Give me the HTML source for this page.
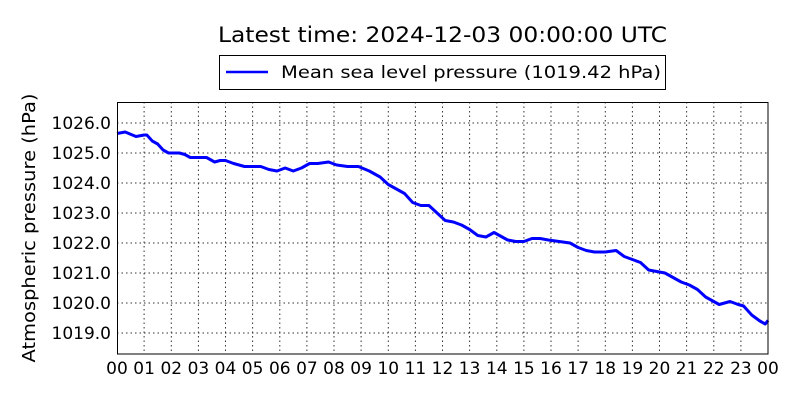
<!DOCTYPE html>
<html><head><meta charset="utf-8"><style>
html,body{margin:0;padding:0;background:#fff;}
</style></head><body>
<svg width="800" height="400" xmlns="http://www.w3.org/2000/svg" font-family="DejaVu Sans, Liberation Sans, sans-serif">
<rect width="800" height="400" fill="#fff"/>
<text x="218" y="42" font-size="21" textLength="449" lengthAdjust="spacingAndGlyphs">Latest time: 2024-12-03 00:00:00 UTC</text>
<rect x="219.5" y="55.5" width="446" height="34" fill="#fff" stroke="#000" stroke-width="1"/>
<line x1="226" y1="72" x2="268" y2="72" stroke="#0000ff" stroke-width="2.5"/>
<text x="281" y="78" font-size="17" textLength="380" lengthAdjust="spacingAndGlyphs">Mean sea level pressure (1019.42 hPa)</text>
<g stroke="#000" stroke-width="1" stroke-dasharray="1.5,3" opacity="0.8">
<line x1="144.1" y1="102" x2="144.1" y2="354"/><line x1="171.3" y1="102" x2="171.3" y2="354"/><line x1="198.4" y1="102" x2="198.4" y2="354"/><line x1="225.5" y1="102" x2="225.5" y2="354"/><line x1="252.6" y1="102" x2="252.6" y2="354"/><line x1="279.8" y1="102" x2="279.8" y2="354"/><line x1="306.9" y1="102" x2="306.9" y2="354"/><line x1="334" y1="102" x2="334" y2="354"/><line x1="361.1" y1="102" x2="361.1" y2="354"/><line x1="388.3" y1="102" x2="388.3" y2="354"/><line x1="415.4" y1="102" x2="415.4" y2="354"/><line x1="442.5" y1="102" x2="442.5" y2="354"/><line x1="469.6" y1="102" x2="469.6" y2="354"/><line x1="496.8" y1="102" x2="496.8" y2="354"/><line x1="523.9" y1="102" x2="523.9" y2="354"/><line x1="551" y1="102" x2="551" y2="354"/><line x1="578.1" y1="102" x2="578.1" y2="354"/><line x1="605.3" y1="102" x2="605.3" y2="354"/><line x1="632.4" y1="102" x2="632.4" y2="354"/><line x1="659.5" y1="102" x2="659.5" y2="354"/><line x1="686.6" y1="102" x2="686.6" y2="354"/><line x1="713.8" y1="102" x2="713.8" y2="354"/><line x1="740.9" y1="102" x2="740.9" y2="354"/>
<line x1="117" y1="123" x2="768" y2="123"/><line x1="117" y1="153" x2="768" y2="153"/><line x1="117" y1="183" x2="768" y2="183"/><line x1="117" y1="213" x2="768" y2="213"/><line x1="117" y1="243" x2="768" y2="243"/><line x1="117" y1="273" x2="768" y2="273"/><line x1="117" y1="303" x2="768" y2="303"/><line x1="117" y1="333" x2="768" y2="333"/>
</g>
<g transform="translate(117,123) scale(27.125,-30)">
<polyline fill="none" stroke="#0000ff" stroke-width="3" vector-effect="non-scaling-stroke" stroke-linejoin="round" points="
0,-0.35 0.3,-0.3 0.7,-0.45 1.0,-0.4 1.1,-0.4 1.3,-0.6 1.5,-0.7 1.7,-0.9 1.9,-1.0 2.3,-1.0 2.5,-1.05 2.7,-1.15 3,-1.15 3.3,-1.15 3.6,-1.3 3.8,-1.25 4.0,-1.25 4.3,-1.35 4.7,-1.45 5.0,-1.45 5.3,-1.45 5.6,-1.55 5.9,-1.6 6.2,-1.5 6.5,-1.6 6.8,-1.5 7.1,-1.35 7.4,-1.35 7.8,-1.3 8.1,-1.4 8.5,-1.45 8.9,-1.45 9.3,-1.6 9.7,-1.8 10.0,-2.05 10.3,-2.2 10.6,-2.35 10.9,-2.65 11.2,-2.75 11.5,-2.75 11.8,-3.0 12.1,-3.25 12.4,-3.3 12.7,-3.4 13.0,-3.55 13.3,-3.75 13.6,-3.8 13.9,-3.65 14.1,-3.75 14.4,-3.9 14.7,-3.95 15.0,-3.95 15.3,-3.85 15.6,-3.85 15.9,-3.9 16.3,-3.95 16.7,-4.0 17.0,-4.15 17.3,-4.25 17.6,-4.3 18.0,-4.3 18.4,-4.25 18.7,-4.45 19.0,-4.55 19.3,-4.65 19.6,-4.9 19.9,-4.95 20.2,-5.0 20.5,-5.15 20.8,-5.3 21.1,-5.4 21.4,-5.55 21.7,-5.8 22.0,-5.95 22.2,-6.05 22.6,-5.95 22.9,-6.05 23.1,-6.1 23.4,-6.4 23.7,-6.6 23.9,-6.7 24,-6.58"/>
</g>
<rect x="117.5" y="102.5" width="650.5" height="251.5" fill="none" stroke="#000" stroke-width="1"/>
<g font-size="17" text-anchor="end">
<text x="111" y="129">1026.0</text><text x="111" y="159">1025.0</text><text x="111" y="189">1024.0</text><text x="111" y="219">1023.0</text><text x="111" y="249">1022.0</text><text x="111" y="279">1021.0</text><text x="111" y="309">1020.0</text><text x="111" y="339">1019.0</text>
</g>
<g font-size="17" text-anchor="middle">
<text x="117" y="374">00</text><text x="144.1" y="374">01</text><text x="171.3" y="374">02</text><text x="198.4" y="374">03</text><text x="225.5" y="374">04</text><text x="252.6" y="374">05</text><text x="279.8" y="374">06</text><text x="306.9" y="374">07</text><text x="334" y="374">08</text><text x="361.1" y="374">09</text><text x="388.3" y="374">10</text><text x="415.4" y="374">11</text><text x="442.5" y="374">12</text><text x="469.6" y="374">13</text><text x="496.8" y="374">14</text><text x="523.9" y="374">15</text><text x="551" y="374">16</text><text x="578.1" y="374">17</text><text x="605.3" y="374">18</text><text x="632.4" y="374">19</text><text x="659.5" y="374">20</text><text x="686.6" y="374">21</text><text x="713.8" y="374">22</text><text x="740.9" y="374">23</text><text x="768" y="374">00</text>
</g>
<text transform="translate(35,228) rotate(-90)" font-size="18" text-anchor="middle" textLength="269" lengthAdjust="spacingAndGlyphs">Atmospheric pressure (hPa)</text>
</svg>
</body></html>
